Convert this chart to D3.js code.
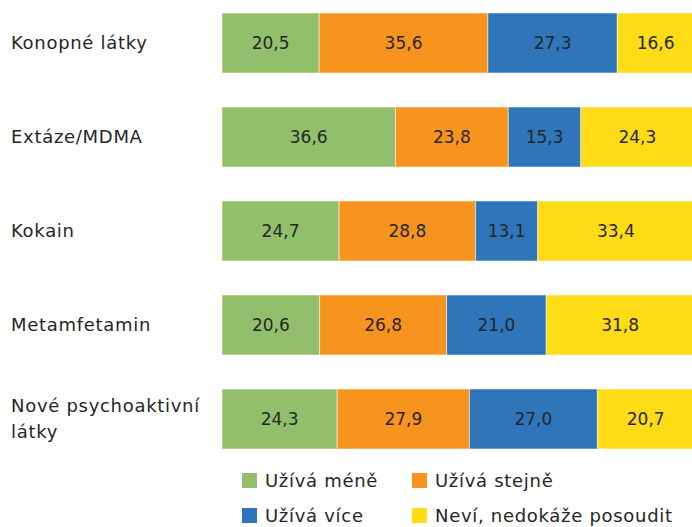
<!DOCTYPE html>
<html lang="cs">
<head>
<meta charset="utf-8">
<title>chart</title>
<script src="https://cdnjs.cloudflare.com/ajax/libs/d3/7.8.5/d3.min.js"></script>
<style>
  body { margin: 0; background: #fff; }
  svg text { font-family: "DejaVu Sans", sans-serif; fill: #262626; }
  .lbl { letter-spacing: 0.7px; }
</style>
</head>
<body>
<svg width="692" height="527"></svg>
<script>
var categories = [["Konopné látky"], ["Extáze/MDMA"], ["Kokain"], ["Metamfetamin"], ["Nové psychoaktivní", "látky"]];
var series = ["Užívá méně", "Užívá stejně", "Užívá více", "Neví, nedokáže posoudit"];
var colors = ["#92bf6b", "#f7941e", "#2e75b9", "#ffdc16"];
var mene    = [20.5, 36.6, 24.7, 20.6, 24.3];
var stejne  = [35.6, 23.8, 28.8, 26.8, 27.9];
var vice    = [27.3, 15.3, 13.1, 21.0, 27.0];
var nevi    = [16.6, 24.3, 33.4, 31.8, 20.7];

var svg = d3.select("svg");

var rows = categories.map(function(c, i){
  return {key: i, m: mene[i], s: stejne[i], v: vice[i], n: nevi[i]};
});
var stack = d3.stack().keys(["m", "s", "v", "n"]);
var layers = stack(rows);

var x = d3.scaleLinear().domain([0, 100]).range([222, 696]);
var y = d3.scaleBand().domain(d3.range(categories.length)).range([-4, 466]).paddingInner(0.362).paddingOuter(0.181);

var fmt = function(v){ return d3.format(".1f")(v).replace(".", ","); };

var g = svg.append("g");
layers.forEach(function(layer, li){
  var lg = g.append("g");
  lg.selectAll("rect")
    .data(layer)
    .enter().append("rect")
      .attr("x", function(d){ return x(d[0]); })
      .attr("y", function(d, i){ return y(i); })
      .attr("width", function(d){ return x(d[1]) - x(d[0]); })
      .attr("height", y.bandwidth())
      .attr("fill", colors[li])
      .attr("stroke", "rgba(255,255,255,0.5)")
      .attr("stroke-width", 1);
  lg.selectAll("text")
    .data(layer)
    .enter().append("text")
      .attr("x", function(d){ return (x(d[0]) + Math.min(x(d[1]), 692)) / 2 + (li == 3 ? 1 : 0); })
      .attr("y", function(d, i){ return y(i) + y.bandwidth() / 2; })
      .attr("dy", "0.35em")
      .attr("text-anchor", "middle")
      .style("font-size", "17px")
      .text(function(d){ return fmt(d[1] - d[0]); });
});

// category labels
categories.forEach(function(lines, i){
  var cy = y(i) + y.bandwidth() / 2;
  var t = svg.append("text")
    .attr("class", "lbl")
    .attr("x", 11)
    .style("font-size", "18px");
  lines.forEach(function(line, j){
    t.append("tspan")
      .attr("x", 11)
      .attr("y", cy + (j - (lines.length - 1) / 2) * 26)
      .attr("dy", "0.35em")
      .text(line);
  });
});

// legend
var legend = svg.append("g");
series.forEach(function(s, i){
  var lx = i % 2 == 0 ? 242 : 412;
  var ly = i < 2 ? 473 : 508;
  legend.append("rect")
    .attr("x", lx).attr("y", ly)
    .attr("width", 15).attr("height", 15)
    .attr("fill", colors[i]);
  legend.append("text")
    .attr("class", "lbl")
    .attr("x", lx + 23).attr("y", ly + 7.5)
    .attr("dy", "0.35em")
    .style("font-size", "18px")
    .text(s);
});
</script>
</body>
</html>
